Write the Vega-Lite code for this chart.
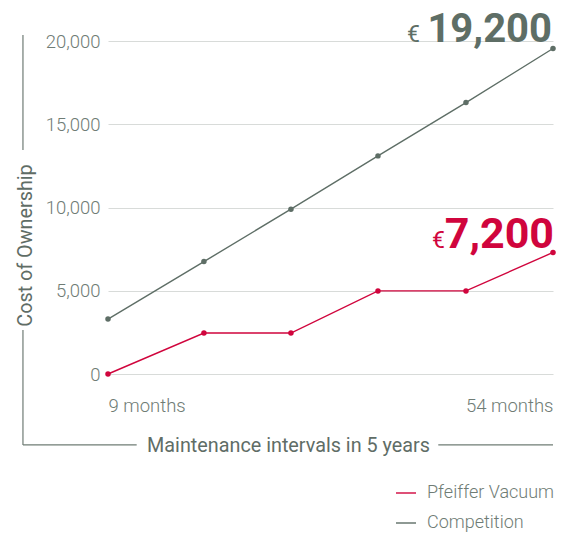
{
  "$schema": "https://vega.github.io/schema/vega-lite/v6.json",
  "width": 445,
  "height": 333,
  "autosize": {"type": "none"},
  "padding": {"left": 108, "top": 41, "right": 15, "bottom": 159},
  "background": "white",
  "config": {"view": {"stroke": null}, "font": "Roboto"},
  "datasets": {
    "costs": [
      {"month": 9, "cost": 3300, "series": "Competition"},
      {"month": 18.7, "cost": 6750, "series": "Competition"},
      {"month": 27.5, "cost": 9900, "series": "Competition"},
      {"month": 36.3, "cost": 13100, "series": "Competition"},
      {"month": 45.2, "cost": 16300, "series": "Competition"},
      {"month": 54, "cost": 19550, "series": "Competition"},
      {"month": 9, "cost": 0, "series": "Pfeiffer Vacuum"},
      {"month": 18.7, "cost": 2460, "series": "Pfeiffer Vacuum"},
      {"month": 27.5, "cost": 2460, "series": "Pfeiffer Vacuum"},
      {"month": 36.3, "cost": 4990, "series": "Pfeiffer Vacuum"},
      {"month": 45.2, "cost": 4990, "series": "Pfeiffer Vacuum"},
      {"month": 54, "cost": 7300, "series": "Pfeiffer Vacuum"}
    ],
    "totals": [
      {"month": 54, "cost": 19550, "series": "Competition", "label": "19,200", "currency": "€"},
      {"month": 54, "cost": 7300, "series": "Pfeiffer Vacuum", "label": "7,200", "currency": "€"}
    ],
    "frame": [
      {"month": 0.4, "month_end": 0.4, "cost": 20360, "cost_end": 13450},
      {"month": 0.4, "month_end": 0.4, "cost": 2640, "cost_end": -4260},
      {"month": 0.4, "month_end": 11.9, "cost": -4260, "cost_end": -4260},
      {"month": 42.4, "month_end": 54, "cost": -4260, "cost_end": -4260}
    ]
  },
  "encoding": {
    "x": {
      "field": "month", "type": "quantitative",
      "scale": {"domain": [9, 54], "nice": false, "zero": false},
      "axis": {
        "values": [9, 54],
        "labelExpr": "datum.value + ' months'",
        "labelAlign": {"expr": "datum.value == 9 ? 'left' : 'right'"},
        "domain": false, "ticks": false, "grid": false,
        "labelFont": "Roboto", "labelFontWeight": 300, "labelFontSize": 18.5,
        "labelColor": "#6f7c75", "labelPadding": 22,
        "title": "Maintenance intervals in 5 years",
        "titleFont": "Roboto", "titleFontWeight": 400, "titleFontSize": 19.8,
        "titleColor": "#5f6d66",
        "titleX": 180, "titleY": 71, "titleAlign": "center", "titleBaseline": "middle"
      }
    },
    "y": {
      "field": "cost", "type": "quantitative",
      "scale": {"domain": [0, 20000], "nice": false},
      "axis": {
        "values": [0, 5000, 10000, 15000, 20000],
        "format": ",d",
        "domain": false, "ticks": false,
        "grid": true, "gridColor": "#d8dbd9", "gridWidth": 1,
        "labelFont": "Roboto", "labelFontWeight": 300, "labelFontSize": 18.5,
        "labelColor": "#6f7c75", "labelPadding": 8,
        "title": "Cost of Ownership",
        "titleFont": "Roboto", "titleFontWeight": 400, "titleFontSize": 19.8,
        "titleColor": "#5f6d66",
        "titleX": -83, "titleY": 204, "titleAngle": -90,
        "titleAlign": "center", "titleBaseline": "middle"
      }
    }
  },
  "layer": [
    {
      "data": {"name": "frame"},
      "mark": {"type": "rule", "color": "#6f7c75", "strokeWidth": 1.2},
      "encoding": {
        "x2": {"field": "month_end"},
        "y2": {"field": "cost_end"}
      }
    },
    {
      "data": {"name": "costs"},
      "mark": {"type": "line", "strokeWidth": 1.4},
      "encoding": {
        "color": {
          "field": "series", "type": "nominal",
          "scale": {"domain": ["Pfeiffer Vacuum", "Competition"], "range": ["#d0053d", "#5e6e66"]},
          "legend": {
            "title": null, "orient": "none", "legendX": 287, "legendY": 441,
            "symbolType": "stroke", "symbolSize": 400, "symbolStrokeWidth": 1.4,
            "labelFont": "Roboto", "labelFontWeight": 300, "labelFontSize": 18,
            "labelColor": "#6f7c75", "labelOffset": 10, "rowPadding": 10
          }
        }
      }
    },
    {
      "data": {"name": "costs"},
      "mark": {"type": "point", "filled": true, "size": 30, "opacity": 1},
      "encoding": {
        "color": {"field": "series", "type": "nominal", "legend": null}
      }
    },
    {
      "data": {"name": "totals"},
      "transform": [{"filter": "datum.series == 'Competition'"}],
      "mark": {"type": "text", "align": "right", "baseline": "alphabetic", "fontWeight": 700, "font": "Roboto", "fontSize": 40, "dx": -1, "dy": -6},
      "encoding": {
        "text": {"field": "label"},
        "color": {"field": "series", "type": "nominal", "legend": null}
      }
    },
    {
      "data": {"name": "totals"},
      "transform": [{"filter": "datum.series == 'Competition'"}],
      "mark": {"type": "text", "align": "right", "baseline": "alphabetic", "fontWeight": 400, "font": "Roboto", "fontSize": 23, "dx": -133, "dy": -6},
      "encoding": {
        "text": {"field": "currency"},
        "color": {"field": "series", "type": "nominal", "legend": null}
      }
    },
    {
      "data": {"name": "totals"},
      "transform": [{"filter": "datum.series == 'Pfeiffer Vacuum'"}],
      "mark": {"type": "text", "align": "right", "baseline": "alphabetic", "fontWeight": 700, "font": "Roboto", "fontSize": 43, "dx": 1, "dy": -4.5},
      "encoding": {
        "text": {"field": "label"},
        "color": {"field": "series", "type": "nominal", "legend": null}
      }
    },
    {
      "data": {"name": "totals"},
      "transform": [{"filter": "datum.series == 'Pfeiffer Vacuum'"}],
      "mark": {"type": "text", "align": "right", "baseline": "alphabetic", "fontWeight": 400, "font": "Roboto", "fontSize": 23, "dx": -108, "dy": -4.5},
      "encoding": {
        "text": {"field": "currency"},
        "color": {"field": "series", "type": "nominal", "legend": null}
      }
    }
  ]
}
